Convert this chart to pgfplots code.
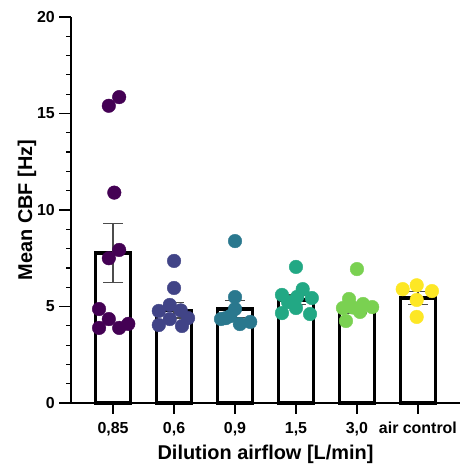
\documentclass[border=0pt]{standalone}
\usepackage{pgfplots}
\pgfplotsset{compat=1.18}
\usepackage{fontspec}
\setmainfont{Liberation Sans}
\definecolor{v1}{HTML}{440154}
\definecolor{v2}{HTML}{414487}
\definecolor{v3}{HTML}{2A788E}
\definecolor{v4}{HTML}{22A884}
\definecolor{v5}{HTML}{7AD151}
\definecolor{v6}{HTML}{FDE725}
\begin{document}
\begin{tikzpicture}
\begin{axis}[
  scale only axis, width=389bp, height=386bp,
  xmin=-0.69, xmax=5.69, ymin=0, ymax=20,
  axis x line*=bottom, axis y line*=left,
  axis line style={line width=1.3bp},
  xtick={0,1,2,3,4,5},
  xticklabels={0{,}85,0{,}6,0{,}9,1{,}5,3{,}0,air control},
  ytick={0,5,10,15,20},
  yticklabels={0,5,10,15,20},
  tick style={draw=none},
  tick align=outside,
  ticklabel style={font=\fontsize{16}{18}\selectfont\bfseries},
  xticklabel style={yshift=-11.5bp},
  yticklabel style={xshift=-8.4bp},
  xlabel={\fontsize{20}{23}\selectfont\bfseries Dilution airflow [L/min]},
  ylabel={\fontsize{20}{23}\selectfont\bfseries Mean CBF [Hz]},
  xlabel style={at={(axis description cs:0.5,0)}, anchor=center, yshift=-51bp},
  ylabel style={at={(axis description cs:0,0.5)}, anchor=center, yshift=44bp},
  clip=false,
]
% axis ticks drawn as one-sided error bars at the axis edges
\addplot[draw=none, mark=none, forget plot,
  error bars/.cd, x dir=minus, x fixed=0.197, error mark=none,
  error bar style={draw=black, solid, line width=1.2bp}]
  coordinates {(-0.69,0) (-0.69,5) (-0.69,10) (-0.69,15) (-0.69,20)};
\addplot[draw=none, mark=none, forget plot,
  error bars/.cd, x dir=minus, x fixed=0.082, error mark=none,
  error bar style={draw=black, solid, line width=1.2bp}]
  coordinates {(-0.69,1) (-0.69,2) (-0.69,3) (-0.69,4) (-0.69,6) (-0.69,7)
  (-0.69,8) (-0.69,9) (-0.69,11) (-0.69,12) (-0.69,13) (-0.69,14)
  (-0.69,16) (-0.69,17) (-0.69,18) (-0.69,19)};
\addplot[draw=none, mark=none, forget plot,
  error bars/.cd, y dir=minus, y fixed=0.57, error mark=none,
  error bar style={draw=black, solid, line width=1.2bp}]
  coordinates {(0,0) (1,0) (2,0) (3,0) (4,0) (5,0)};
\addplot[ybar, bar width=0.57, draw=black, line width=3.5bp, fill=white,
  error bars/.cd, y dir=both, y explicit,
  error bar style={line width=1.3bp, color=black!70},
  error mark options={rotate=90, mark size=10bp, line width=1.3bp, color=black!70}]
  coordinates {
  (0,7.77) +- (0,1.53)
  (1,4.80) +- (0,0.40)
  (2,4.87) +- (0,0.45)
  (3,5.34) +- (0,0.25)
  (4,4.92) +- (0,0.25)
  (5,5.44) +- (0,0.33)
  };
\addplot[only marks, mark=*, mark size=6.8bp, color=v1] coordinates {
  (0.10,15.85) (-0.07,15.4) (0.02,10.9) (0.10,7.93) (-0.07,7.5)
  (-0.23,4.87) (-0.07,4.35) (-0.23,3.89) (0.10,3.89) (0.25,4.1)};
\addplot[only marks, mark=*, mark size=6.8bp, color=v2] coordinates {
  (1.0,7.36) (1.0,5.96) (0.93,5.08) (0.75,4.77) (1.11,4.8)
  (1.23,4.4) (0.93,4.35) (0.75,4.04) (1.13,3.99)};
\addplot[only marks, mark=*, mark size=6.8bp, color=v3] coordinates {
  (2.0,8.39) (2.0,5.49) (2.0,4.87) (1.77,4.35) (1.92,4.5)
  (2.08,4.09) (2.25,4.2) (1.85,4.4)};
\addplot[only marks, mark=*, mark size=6.8bp, color=v4] coordinates {
  (3.0,7.05) (2.77,5.6) (3.11,5.9) (3.02,5.5) (3.26,5.44)
  (2.87,5.23) (3.0,4.92) (2.77,4.66) (3.23,4.61)};
\addplot[only marks, mark=*, mark size=6.8bp, color=v5] coordinates {
  (4.0,6.94) (3.87,5.39) (3.77,4.92) (4.1,5.13) (4.25,4.97)
  (4.05,4.72) (3.82,4.25) (3.93,4.95)};
\addplot[only marks, mark=*, mark size=6.8bp, color=v6] coordinates {
  (4.75,5.9) (4.98,6.1) (5.23,5.8) (4.98,5.34) (4.98,4.46)};
\end{axis}
\pgfresetboundingbox
\path ([xshift=-71bp,yshift=-67bp]current axis.south west) rectangle ([xshift=3bp,yshift=17bp]current axis.north east);
\end{tikzpicture}
\end{document}
